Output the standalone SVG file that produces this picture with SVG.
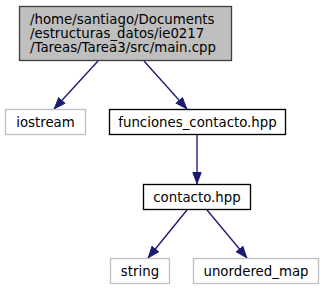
<svg xmlns="http://www.w3.org/2000/svg" width="323" height="291" viewBox="0 0 323 291">
<style>
  text { font-family: "DejaVu Sans", sans-serif; font-size: 13.33px; fill: #000; text-anchor: middle; }
  .main text { text-anchor: start; }
  .main rect { fill: #bfbfbf; stroke: #404040; stroke-width: 1.33; }
  .inc rect { fill: #fff; stroke: #000; stroke-width: 1.33; }
  .ext rect { fill: #fff; stroke: #bfbfbf; stroke-width: 1.33; }
  .edge { fill: none; stroke: #191970; stroke-width: 1.33; }
</style>
<defs>
  <marker id="arrow" viewBox="0 0 12 10" refX="12" refY="5" markerWidth="12" markerHeight="10" markerUnits="userSpaceOnUse" orient="auto">
    <path d="M0.5,0.8 L11.5,5 L0.5,9.2 Z" fill="#191970" stroke="#191970" stroke-width="1"/>
  </marker>
</defs>
<rect width="323" height="291" fill="#fff"/>
<g id="edges">
  <path class="edge" d="M98,61 L54,109" marker-end="url(#arrow)"/>
  <path class="edge" d="M144,61 L187,109" marker-end="url(#arrow)"/>
  <path class="edge" d="M197,135 L197,184" marker-end="url(#arrow)"/>
  <path class="edge" d="M187,210 L148,258" marker-end="url(#arrow)"/>
  <path class="edge" d="M207,210 L247,258" marker-end="url(#arrow)"/>
</g>
<g id="node-main" class="main">
  <rect x="19.5" y="6.5" width="212" height="54"/>
  <text x="30" y="24">/home/santiago/Documents</text>
  <text x="30" y="38">/estructuras_datos/ie0217</text>
  <text x="30" y="52">/Tareas/Tarea3/src/main.cpp</text>
</g>
<g id="node-iostream" class="ext">
  <rect x="5.5" y="109.5" width="80" height="25"/>
  <text x="45.5" y="126.5">iostream</text>
</g>
<g id="node-funciones" class="inc">
  <rect x="109.5" y="109.5" width="176" height="25"/>
  <text x="197.5" y="126.5">funciones_contacto.hpp</text>
</g>
<g id="node-contacto" class="inc">
  <rect x="143.5" y="184.5" width="107" height="25"/>
  <text x="197" y="201.5">contacto.hpp</text>
</g>
<g id="node-string" class="ext">
  <rect x="110.5" y="258.5" width="59" height="25"/>
  <text x="140" y="275.5">string</text>
</g>
<g id="node-unordered_map" class="ext">
  <rect x="193.5" y="258.5" width="125" height="25"/>
  <text x="256" y="275.5">unordered_map</text>
</g>
</svg>
